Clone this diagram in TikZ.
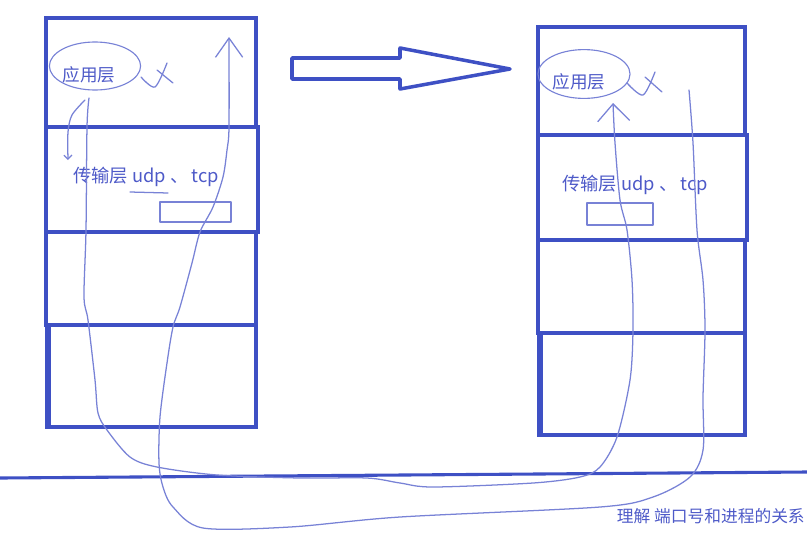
\documentclass[tikz,border=0pt]{standalone}
\usepackage{fontspec}
\setmainfont{Noto Sans CJK SC}
\usetikzlibrary{
    calc,
    positioning,
    arrows.meta,
    shapes.geometric
}
\definecolor{pen}{RGB}{62,80,196}
\definecolor{ink}{RGB}{78,90,200}
\definecolor{pencil}{RGB}{120,130,214}
\tikzset{
    % Layer box:
    layer/.style = {
        draw = pen,
        line width = 2.8pt
    },
    % Hand drawn stroke:
    scribble/.style = {
        draw = pencil,
        line width = 0.9pt,
        line cap = round,
        line join = round
    },
    % Hand drawn arrow:
    hand arrow/.style 2 args = {
        scribble,
        -{Straight Barb[length=#1, width=#2]}
    },
    % Layer name:
    layer name/.style = {
        text = ink,
        font = \fontsize{12.5pt}{14pt}\selectfont,
        inner sep = 0pt
    },
    % Bubble round the application layer:
    bubble/.style = {
        ellipse,
        draw = pencil,
        line width = 0.8pt,
        minimum width = 2.28cm,
        minimum height = 1.2cm
    }
}

\begin{document}
\begin{tikzpicture}[x=0.025cm, y=-0.025cm]
    \useasboundingbox (0, 0) rectangle (807, 533);
    % Left host:
    \draw [layer] (46, 18) rectangle (256, 127);
    \draw [layer] (46, 127) rectangle (258, 232);
    \draw [layer] (46, 232) rectangle (256, 325);
    \draw [layer] (47, 325) rectangle (256, 427);
    \draw [layer] (49, 325) -- (49, 427);
    % Right host:
    \draw [layer] (538, 27) rectangle (745, 135);
    \draw [layer] (538, 135) rectangle (747, 240);
    \draw [layer] (538, 240) rectangle (745, 333);
    \draw [layer] (539, 333) rectangle (745, 435);
    \draw [layer] (541, 333) -- (541, 435);
    % Big arrow between the hosts:
    \draw [layer, line width=2.5pt, line join=round]
        (292, 58) -- (400, 58) -- (400, 48) -- (510, 69)
        -- (400, 89) -- (400, 79) -- (292, 79) -- cycle;
    % Network line:
    \draw [draw=pen, line width=2.2pt] (0, 478) -- (807, 472);

    \node [bubble] (appL) at (95, 66) {};
    \node [layer name] (appLname) at (89, 75) {应用层};
    \node [bubble, minimum width=2.3cm, minimum height=1.22cm] (appR) at (584, 74) {};
    \node [layer name] (appRname) at (579, 82) {应用层};
    \node [layer name, anchor=west, font=\fontsize{13pt}{15pt}\selectfont] (tpL) at (73, 177) {传输层 udp 、\,tcp};
    \node [layer name, anchor=west, font=\fontsize{13pt}{15pt}\selectfont] (tpR) at (562, 185) {传输层 udp 、\,tcp};
    \node [layer name, anchor=east, font=\fontsize{11.9pt}{13pt}\selectfont] (note) at (805, 516) {理解 端口号和进程的关系};

    % Ports:
    \draw [scribble] (130, 192) -- (168, 193);
    \draw [scribble, line width=0.8pt] (160, 202) rectangle (231, 222);
    \draw [scribble, line width=0.8pt] (587, 203) rectangle (653, 225);
    % Crossed out tails:
    \draw [scribble] plot [smooth] coordinates {(141, 77) (155, 87) (167, 63)};
    \draw [scribble] (157, 70) -- (173, 83);
    \draw [scribble] plot [smooth] coordinates {(627, 83) (643, 95) (655, 72)};
    \draw [scribble] (645, 77) -- (662, 92);

    \coordinate (sendL) at (89, 98);
    \coordinate (recvR) at (613, 103);
    \coordinate (sendR) at (689, 90);
    \coordinate (recvL) at (229, 37);
    \coordinate (downL) at (85, 100);
    \coordinate (downEnd) at (68, 160);
    % Left to right:
    \draw [hand arrow={0.43cm}{0.8cm}] plot [smooth, tension=0.5] coordinates {
        (sendL) (87, 127) (86, 230) (84, 297) (88, 320) (95, 380) (98, 413)
        (107, 430) (130, 457) (157, 467) (217, 475) (300, 478) (367, 478)
        (400, 483) (433, 487) (533, 483) (580, 477) (600, 467) (617, 437)
        (630, 380) (633, 330) (632, 280) (627, 230) (620, 200) (615, 143) (recvR)};
    % Right to left:
    \draw [hand arrow={0.48cm}{0.68cm}] plot [smooth, tension=0.5] coordinates {
        (sendR) (693, 143) (697, 230) (703, 280) (705, 330) (703, 397) (703, 450)
        (690, 477) (653, 497) (600, 507) (400, 517) (290, 527) (203, 528)
        (173, 507) (163, 487) (159, 463) (160, 417) (167, 363) (173, 327)
        (180, 307) (192, 263) (200, 232) (213, 207) (223, 177) (227, 150)
        (229, 127) (recvL)};
    \draw [hand arrow={0.1cm}{0.2cm}] plot [smooth] coordinates {
        (downL) (72, 115) (68, 132) (downEnd)};
\end{tikzpicture}
\end{document}
